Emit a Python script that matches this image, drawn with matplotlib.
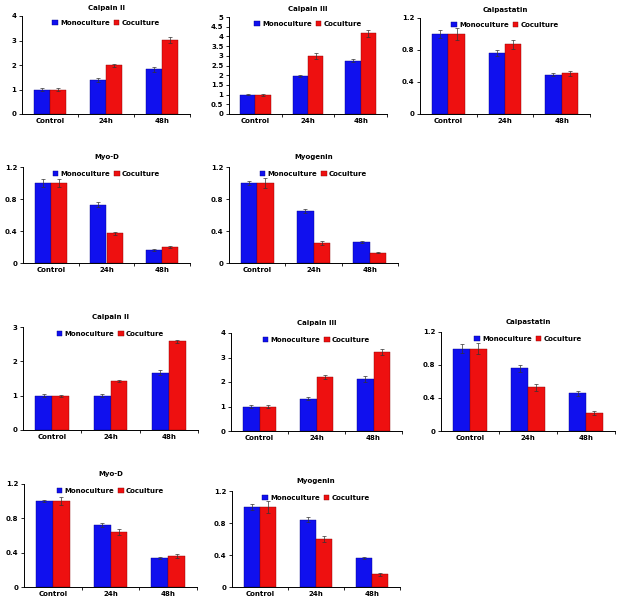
import matplotlib.pyplot as plt
import numpy as np

plt.rcParams['font.family'] = ['DejaVu Sans']
plt.rcParams['font.weight'] = 'bold'

groups = ['Control', '24h', '48h']
series = ['Monoculture', 'Coculture']
mono_color = '#1010EE'
co_color = '#EE1010'

titles = ['Calpain II', 'Calpain III', 'Calpastatin', 'Myo-D', 'Myogenin',
          'Calpain II', 'Calpain III', 'Calpastatin', 'Myo-D', 'Myogenin']

mono = [[1.00, 1.38, 1.82], [1.00, 1.95, 2.75], [1.00, 0.76, 0.49],
        [1.00, 0.73, 0.16], [1.00, 0.65, 0.26],
        [1.00, 1.00, 1.67], [1.00, 1.32, 2.13], [1.00, 0.76, 0.46],
        [1.00, 0.72, 0.34], [1.00, 0.84, 0.36]]
co = [[1.00, 1.98, 3.02], [1.00, 2.98, 4.15], [1.00, 0.87, 0.51],
      [1.00, 0.37, 0.20], [1.00, 0.25, 0.13],
      [1.00, 1.43, 2.58], [1.00, 2.20, 3.22], [1.00, 0.53, 0.22],
      [1.00, 0.64, 0.36], [1.00, 0.60, 0.16]]
mono_err = [[0.05, 0.08, 0.10], [0.03, 0.05, 0.07], [0.05, 0.04, 0.02],
            [0.05, 0.03, 0.01], [0.02, 0.02, 0.01],
            [0.05, 0.05, 0.08], [0.05, 0.07, 0.12], [0.05, 0.04, 0.03],
            [0.01, 0.02, 0.01], [0.04, 0.03, 0.01]]
co_err = [[0.05, 0.08, 0.12], [0.05, 0.15, 0.20], [0.07, 0.06, 0.03],
          [0.05, 0.02, 0.01], [0.06, 0.02, 0.01],
          [0.03, 0.03, 0.05], [0.05, 0.08, 0.12], [0.07, 0.04, 0.02],
          [0.05, 0.03, 0.02], [0.07, 0.04, 0.02]]
yticks = [[0, 1, 2, 3, 4], [0, 0.5, 1, 1.5, 2, 2.5, 3, 3.5, 4, 4.5, 5],
          [0, 0.4, 0.8, 1.2], [0, 0.4, 0.8, 1.2], [0, 0.4, 0.8, 1.2],
          [0, 1, 2, 3], [0, 1, 2, 3, 4], [0, 0.4, 0.8, 1.2],
          [0, 0.4, 0.8, 1.2], [0, 0.4, 0.8, 1.2]]

# axes boxes in pixels: left, top, right, bottom
boxes = [(22, 16, 190, 114), (229, 17, 387, 114), (420, 18, 590, 114),
         (23, 167, 190, 263), (229, 167, 398, 263),
         (23, 327, 198, 430), (231, 333, 402, 431), (441, 332, 615, 431),
         (24, 484, 197, 587), (232, 491, 400, 587)]

W, H = 625, 603
fig = plt.figure(figsize=(W / 100, H / 100), dpi=100)

x = np.arange(len(groups))
bw = 0.29
for i in range(10):
    l, t, r, b = boxes[i]
    ax = fig.add_axes([l / W, 1 - b / H, (r - l) / W, (b - t) / H])
    ax.bar(x - bw / 2, mono[i], bw, yerr=mono_err[i], color=mono_color,
           edgecolor='#00008B', linewidth=0.3, label=series[0],
           error_kw=dict(elinewidth=0.5, capsize=1.5, capthick=0.5, ecolor='#333333'))
    ax.bar(x + bw / 2, co[i], bw, yerr=co_err[i], color=co_color,
           edgecolor='#8B0000', linewidth=0.3, label=series[1],
           error_kw=dict(elinewidth=0.5, capsize=1.5, capthick=0.5, ecolor='#333333'))
    ax.set_xlim(-0.5, 2.5)
    ax.set_ylim(0, yticks[i][-1])
    ax.set_yticks(yticks[i])
    ax.set_yticklabels([f'{v:g}' for v in yticks[i]])
    ax.set_xticks(x)
    ax.set_xticklabels(groups)
    ax.set_xticks([0.5, 1.5, 2.5], minor=True)
    ax.tick_params(axis='x', which='major', length=0, labelsize=5, pad=3)
    ax.tick_params(axis='x', which='minor', length=2, width=0.6)
    ax.tick_params(axis='y', labelsize=5, length=2, width=0.6, pad=2)
    for s in ['top', 'right']:
        ax.spines[s].set_visible(False)
    for s in ['left', 'bottom']:
        ax.spines[s].set_linewidth(0.7)
    ax.set_title(titles[i], fontsize=5, fontweight='bold', pad=4 if i < 3 else 6)
    ax.legend(loc='upper center', ncol=2, frameon=False, fontsize=5,
              handlelength=0.8, handleheight=0.8, handletextpad=0.3,
              columnspacing=0.6, borderaxespad=0.2)

fig.savefig('out.png', dpi=100)
